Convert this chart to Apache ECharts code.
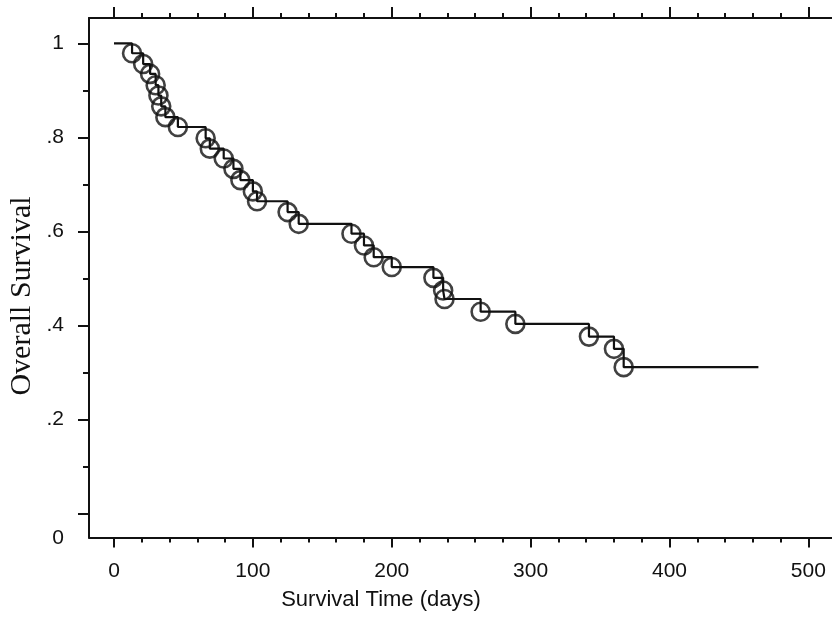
<!DOCTYPE html>
<html>
<head>
<meta charset="utf-8">
<script src="https://cdn.jsdelivr.net/npm/echarts@6/dist/echarts.min.js"></script>
<style>
html,body{margin:0;padding:0;background:#fff;}
#chart{width:832px;height:619px;}
</style>
</head>
<body>
<div id="chart"></div>
<script>
// ---- data ----
const eventTimes = [13, 21, 26, 30, 32, 34, 37, 46, 66, 69, 79, 86, 91, 100, 103, 125, 133, 171, 180, 187, 200, 230, 237, 238, 264, 289, 342, 360, 367];
const survival   = [0.979, 0.956, 0.935, 0.911, 0.889, 0.866, 0.843, 0.822, 0.798, 0.776, 0.755, 0.733, 0.709, 0.685, 0.664, 0.641, 0.616, 0.595, 0.570, 0.545, 0.524, 0.501, 0.474, 0.456, 0.429, 0.403, 0.376, 0.350, 0.311];
const startTime = 0;
const startSurvival = 1;
const lastTime = 464;

const xMajorTicks = [0, 100, 200, 300, 400, 500];
const xMinorTicks = [20, 40, 60, 80, 120, 140, 160, 180, 220, 240, 260, 280, 320, 340, 360, 380, 420, 440, 460, 480];
const yMajorTicks = [0, 0.2, 0.4, 0.6, 0.8, 1];
const yMinorTicks = [0.1, 0.3, 0.5, 0.7, 0.9];
const yTickLabels = ['0', '.2', '.4', '.6', '.8', '1'];

const xTitle = 'Survival Time (days)';
const yTitle = 'Overall Survival';

// ---- build series data ----
const stepData = [[startTime, startSurvival]];
eventTimes.forEach((t, i) => stepData.push([t, survival[i]]));
stepData.push([lastTime, survival[survival.length - 1]]);
const markData = eventTimes.map((t, i) => [t, survival[i]]);

const ink = '#111111';
const X_MIN = -18, X_MAX = 517;
const Y_MIN = -0.0515, Y_MAX = 1.054;

function xAxisDef(pos, ticks, len, showLine, showLabel) {
  return {
    type: 'value', position: pos, min: X_MIN, max: X_MAX,
    axisLine: { show: showLine, onZero: false, lineStyle: { color: ink, width: 2 } },
    axisTick: { show: true, inside: false, length: len, customValues: ticks, lineStyle: { color: ink, width: 2 } },
    axisLabel: showLabel ? { show: true, customValues: ticks, margin: 23, color: ink, fontSize: 21, fontFamily: 'Liberation Sans' } : { show: false },
    splitLine: { show: false }
  };
}
function yAxisDef(ticks, len, showLine, showLabel) {
  return {
    type: 'value', position: 'left', min: Y_MIN, max: Y_MAX,
    axisLine: { show: showLine, onZero: false, lineStyle: { color: ink, width: 2 } },
    axisTick: { show: true, inside: false, length: len, customValues: ticks, lineStyle: { color: ink, width: 2 } },
    axisLabel: showLabel ? {
      show: true, customValues: ticks, margin: 25, color: ink, fontSize: 21, fontFamily: 'Liberation Sans',
      formatter: function (v) {
        const i = yMajorTicks.findIndex(m => Math.abs(m - v) < 1e-9);
        const s = i >= 0 ? yTickLabels[i] : String(v);
        return v === 0 ? '{z|' + s + '}' : s;
      },
      rich: { z: { padding: [50, 0, 0, 0], fontSize: 21, color: ink, fontFamily: 'Liberation Sans' } }
    } : { show: false },
    splitLine: { show: false }
  };
}

const chart = echarts.init(document.getElementById('chart'), null, { renderer: 'canvas' });
chart.setOption({
  animation: false,
  backgroundColor: '#ffffff',
  grid: { left: 89, right: 0, top: 18, bottom: 81.5, containLabel: false },
  xAxis: [
    xAxisDef('bottom', xMajorTicks, 10, true, true),
    xAxisDef('bottom', xMinorTicks, 5, false, false),
    xAxisDef('top', xMajorTicks, 11, true, false),
    xAxisDef('top', xMinorTicks, 5, false, false)
  ],
  yAxis: [
    yAxisDef(yMajorTicks, 11, true, true),
    yAxisDef(yMinorTicks, 6, false, false)
  ],
  graphic: [
    { type: 'text', x: 381, y: 600, style: { text: xTitle, font: '22px "Liberation Sans"', fill: ink, textAlign: 'center', textVerticalAlign: 'middle' } },
    { type: 'text', x: 22, y: 296, rotation: Math.PI / 2, style: { text: yTitle, font: '30px "Liberation Serif"', fill: ink, textAlign: 'center', textVerticalAlign: 'middle' } }
  ],
  series: [
    {
      type: 'line', xAxisIndex: 0, yAxisIndex: 0, step: 'end', data: stepData,
      symbol: 'none', lineStyle: { color: ink, width: 2.2 }, silent: true
    },
    {
      type: 'scatter', xAxisIndex: 0, yAxisIndex: 0, data: markData,
      symbol: 'circle', symbolSize: 18,
      itemStyle: { color: 'rgba(0,0,0,0)', borderColor: ink, borderWidth: 2.6 }, silent: true
    }
  ]
});
</script>
</body>
</html>
